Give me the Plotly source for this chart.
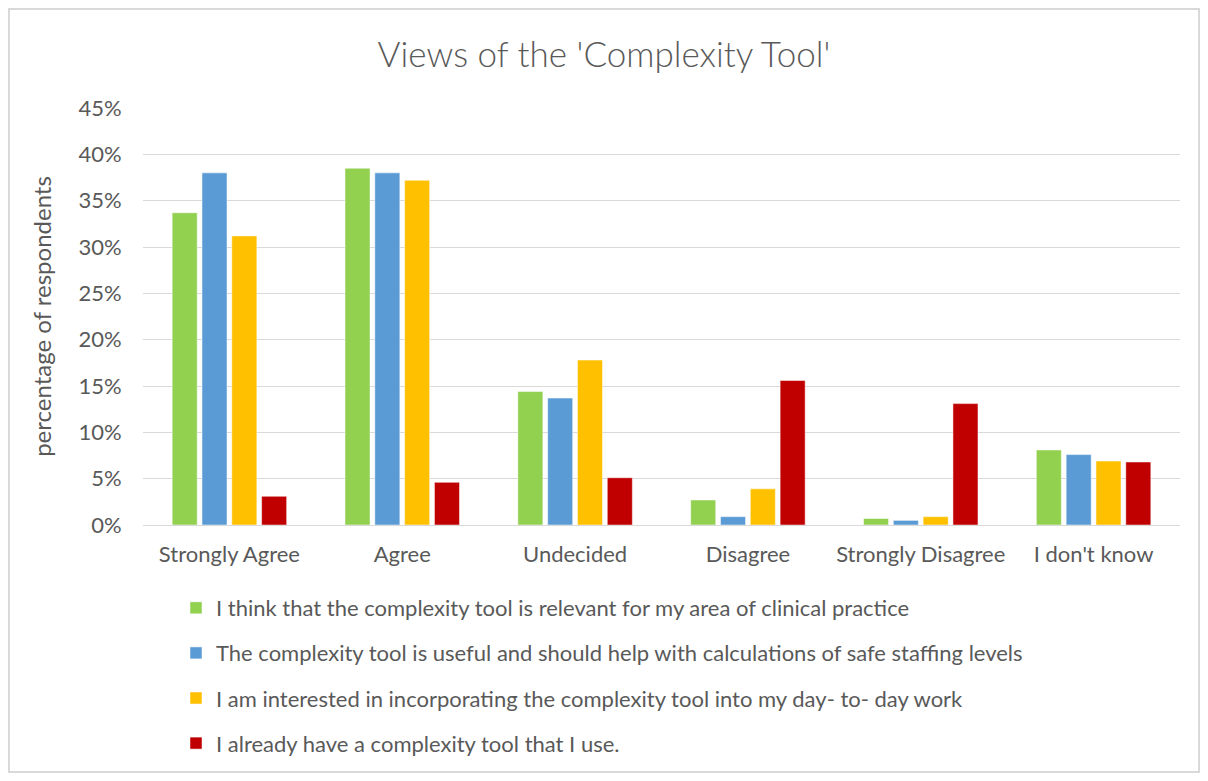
import plotly.graph_objects as go

categories = ["Strongly Agree", "Agree", "Undecided", "Disagree", "Strongly Disagree", "I don't know"]
series_names = [
    "I think that the complexity tool is relevant for my area of clinical practice",
    "The complexity tool is useful and should help with calculations of safe staffing levels",
    "I am interested in incorporating the complexity tool into my day- to- day work",
    "I already have a complexity tool that I use.",
]
relevant = [0.337, 0.385, 0.144, 0.027, 0.007, 0.081]
useful = [0.380, 0.380, 0.137, 0.009, 0.005, 0.076]
interested = [0.312, 0.372, 0.178, 0.039, 0.009, 0.069]
already = [0.031, 0.046, 0.051, 0.156, 0.131, 0.068]
colors = ["#92D050", "#5B9BD5", "#FFC000", "#C00000"]

TXT = "#595959"
FONT = "Lato, Carlito, 'Open Sans', sans-serif"

fig = go.Figure()
for i, (name, vals) in enumerate(zip(series_names, [relevant, useful, interested, already])):
    fig.add_trace(go.Bar(
        x=categories, y=vals, name=name, legendgroup=f"g{i}",
        marker=dict(color=colors[i], line=dict(color="white", width=0.5)),
    ))

OFF = 8  # page body margin
W, H = 1192, 765
# plot area in reference page coords
L, R, T, B = 143 - OFF, 1180 - OFF, 108 - OFF, 525 - OFF
pw, ph = R - L, B - T

def px(x):
    return (x - OFF - L) / pw

def py(y):
    return (B - (y - OFF)) / ph

fig.update_layout(
    width=W, height=H,
    margin=dict(l=L, r=W - R, t=T, b=H - B, autoexpand=False),
    paper_bgcolor="white", plot_bgcolor="white",
    font=dict(family=FONT, color=TXT, size=22),
    barmode="group", bargap=0.31, bargroupgap=0.16,
    title=dict(text="Views of the 'Complexity Tool'", x=0.5, xanchor="center",
               y=1 - (55 - OFF) / H, yanchor="middle",
               font=dict(size=35, family=FONT, color=TXT, weight=300)),
    showlegend=True,
    legend=dict(orientation="v", x=px(176), xanchor="left", y=py(587), yanchor="top",
                font=dict(size=22, color=TXT, family=FONT), tracegroupgap=13.5,
                bgcolor="rgba(0,0,0,0)", itemwidth=30),
    shapes=[dict(type="rect", xref="paper", yref="paper",
                 x0=px(9), x1=px(1199), y0=py(772), y1=py(9),
                 line=dict(color="#d9d9d9", width=2), layer="below")],
)
fig.update_xaxes(showgrid=False, showline=True, linecolor="#d9d9d9", linewidth=1,
                 ticks="outside", ticklen=0, ticklabelstandoff=10,
                 tickfont=dict(size=22, color=TXT))
fig.update_yaxes(range=[0, 0.45], dtick=0.05, tickformat=".0%",
                 showgrid=True, gridcolor="#d9d9d9", gridwidth=1, zeroline=False,
                 ticks="outside", ticklen=0, ticklabelstandoff=16,
                 tickfont=dict(size=22, color=TXT),
                 title=dict(text="percentage of respondents", standoff=20,
                            font=dict(size=24, color=TXT)))

fig.write_html("out.html")
